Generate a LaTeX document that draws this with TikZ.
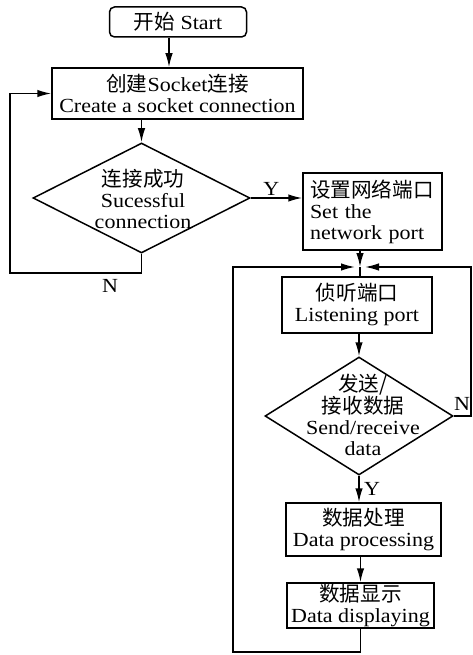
\documentclass[tikz,border=0pt]{standalone}
\usepackage{fontspec}
\setmainfont{Liberation Serif}[FakeStretch=1.1]
\newfontfamily\cjk{Noto Sans CJK SC}[Scale=1.03]
\newcommand{\zh}[1]{{\cjk #1}}
\usetikzlibrary{shapes.geometric, arrows.meta}

\begin{document}
\begin{tikzpicture}[x=1pt, y=-1pt, line width=1.5pt,
    every node/.style={font=\fontsize{20}{21}\selectfont},
    box/.style={draw, inner sep=0pt, align=center},
    decision/.style={draw, diamond, inner sep=0pt},
    arr/.style={-{Latex[length=14pt,width=7.5pt]}}]
  \useasboundingbox (0,0) rectangle (473,655);

  \node[box, rounded corners=5pt, minimum width=137, minimum height=30] (start) at (178,22) {\zh{开始} Start};
  \node[box, minimum width=251, minimum height=51] (create) at (177.5,93.5) {\zh{创建}Socket\zh{连接}\\Create a socket connection};
  \node[decision, minimum width=217, minimum height=110] (conn) at (141.5,198) {};
  \node[align=center] (conntxt) at (143,199) {\zh{连接成功}\\Sucessful\\connection};
  \node[box, align=left, minimum width=139, minimum height=77, text width=125] (port) at (372.5,211.5) {\zh{设置网络端口}\\Set the\\network port};

  \node[box, minimum width=150, minimum height=56] (listen) at (357,305) {\zh{侦听端口}\\Listening port};
  \node[decision, minimum width=188, minimum height=118] (send) at (359,416) {};
  \node[align=center] (sendtxt) at (363,415) {\zh{发送/}\\\zh{接收数据}\\Send/receive\\data};
  \node[box, minimum width=155, minimum height=53] (proc) at (363.5,529.5) {\zh{数据处理}\\Data processing};
  \node[box, minimum width=147, minimum height=45] (disp) at (360.5,605.5) {\zh{数据显示}\\Data displaying};

  \coordinate (merge) at (360,267);
  \coordinate (nloop) at (10,273);
  \coordinate (lloop) at (233,652);
  \coordinate (rloop) at (471,267);

  \draw[arr] ([xshift=-9pt]start.south) -- ([xshift=-9pt]start.south |- create.north);
  \draw[arr] (conn.north |- create.south) -- (conn.north);
  \draw[arr] (conn.east) -- (conn.east -| port.west) node[pos=0.4, above=-2pt] (ylab1) {Y};
  \draw[arr] (conn.south) -- (conn.south |- nloop) -- (nloop) |- (create.west);
  \node (nlab1) at (110,286) {N};

  \draw[arr] (merge |- port.south) -- (merge);
  \draw (merge) -- (merge |- listen.north);
  \draw[arr] (send.north |- listen.south) -- (send.north);
  \draw[arr] (send.south) -- (send.south |- proc.north) node[midway, right=1pt] (ylab2) {Y};
  \draw[arr] (disp.north |- proc.south) -- (disp.north);
  \draw[arr, shorten >=5pt] (disp.south) |- (lloop) |- (merge);
  \draw[arr, shorten >=5pt] (send.east) -| (rloop) -- (merge);
  \node (nlab2) at (462,404) {N};
\end{tikzpicture}
\end{document}
